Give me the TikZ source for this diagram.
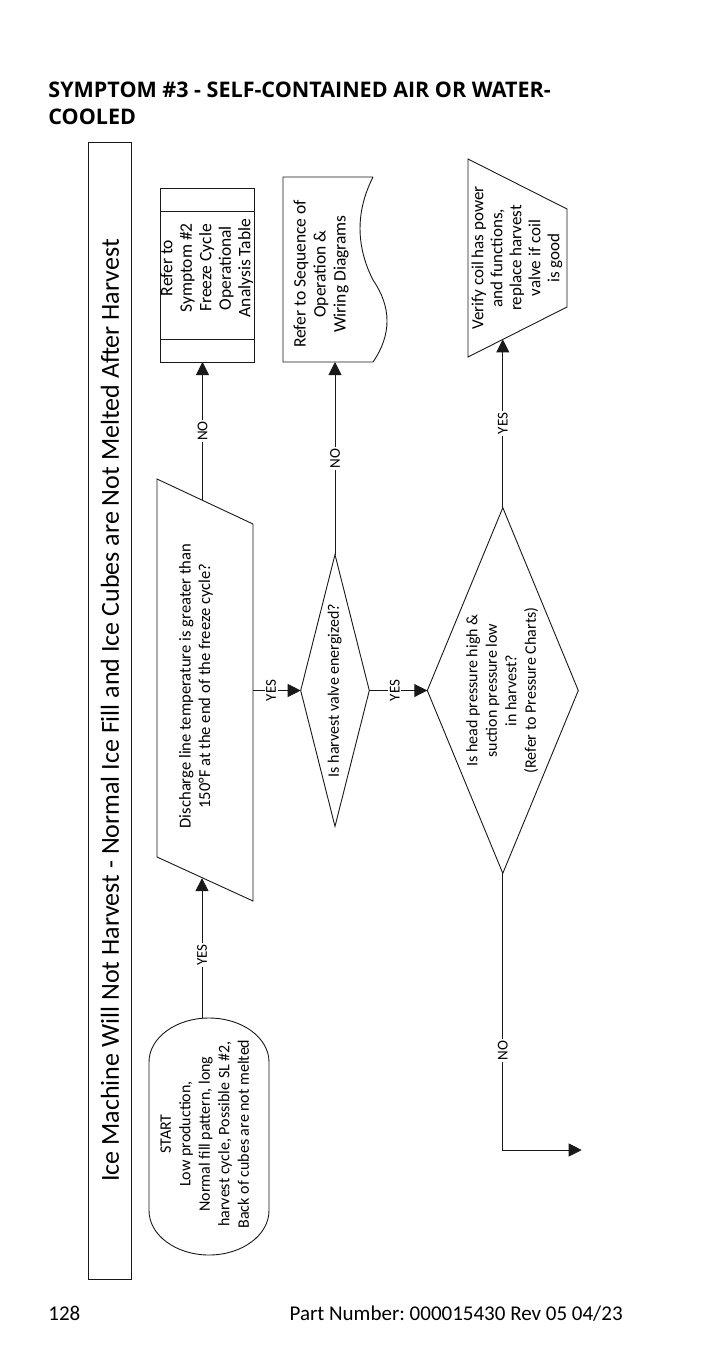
\documentclass[tikz,border=0pt]{standalone}
\usepackage{fontspec}
\setmainfont{Carlito}
\newfontfamily\hdrfont{Open Sans}
\usepackage{graphicx}
\usepackage{tikz}
\usetikzlibrary{arrows.meta,positioning,calc,shapes.geometric}

\newcommand{\vtxt}[1]{\rotatebox{90}{\begin{tabular}{@{}c@{}}#1\end{tabular}}}
\frenchspacing

\begin{document}
\begin{tikzpicture}[x=1pt, y=-1pt, line width=0.9pt,
	shp/.style = {draw=black!90, inner sep=0pt, outer sep=0pt},
	txt/.style = {inner sep=0pt, font=\fontsize{16}{19.5}\selectfont},
	dmd/.style = {diamond, shp, font=\fontsize{16}{19.5}\selectfont},
	arr/.style = {draw=black!90, -{Triangle[length=13pt,width=13pt]}},
	lbl/.style = {fill=white, inner sep=1.5pt, rotate=90, font=\fontsize{15}{18}\selectfont}]
	            \fill[white] (0,0) rectangle (720,1368);
	            \useasboundingbox (0,0) rectangle (720,1368);
	            \node [anchor=base west, inner sep=0pt, font=\fontsize{21.5}{27}\hdrfont\bfseries] (hdr) at (48,97) {SYMPTOM \#3 - SELF-CONTAINED AIR OR WATER-};
	            \node [anchor=base west, inner sep=0pt, font=\fontsize{21.5}{27}\hdrfont\bfseries] (hdr2) at (48,124) {COOLED};
	            \node [shp, minimum width=43.5, minimum height=1137, font=\fontsize{26}{31}\selectfont] (ttl) at (110,710.5) {\rotatebox{90}{Ice Machine Will Not Harvest - Normal Ice Fill and Ice Cubes are Not Melted After Harvest}};
	            \draw [shp] (149,1062) .. controls (149,1037.7) and (175.9,1018) .. (209,1018) .. controls (242.1,1018) and (269,1037.7) .. (269,1062) -- (269,1210.5) .. controls (269,1235.1) and (242.1,1255) .. (209,1255) .. controls (175.9,1255) and (149,1235.1) .. (149,1210.5) -- cycle;
	            \node [txt] (start) at (206,1134) {\vtxt{START\\Low production,\\Normal fill pattern, long\\harvest cycle, Possible SL \#2,\\Back of cubes are not melted}};
	            \coordinate (startT) at (202,1018.3);
	            \draw [shp] (157,479) -- (253,524) -- (253,901) -- (157,857) -- cycle;
	            \node [txt, font=\fontsize{16.6}{19.5}\selectfont] (disc) at (196.5,686) {\vtxt{Discharge line temperature is greater than\\150°F at the end of the freeze cycle?}};
	            \coordinate (discT) at (202.5,500.3);
	            \coordinate (discB) at (202,878.1);
	            \coordinate (discR) at (253,690.5);
	            \node [shp, minimum width=93.5, minimum height=174] (sym) at (207.25,275) {};
	            \draw [shp] (sym.north west) ++(0,23) -- ++(93.5,0);
	            \draw [shp] (sym.south west) ++(0,-23) -- ++(93.5,0);
	            \node [txt, font=\fontsize{17.5}{19.5}\selectfont] (symtxt) at (207.5,268) {\vtxt{Refer to\\Symptom \#2\\Freeze Cycle\\Operational\\Analysis Table}};
	            \draw [shp] (373,177) -- (283,177) -- (283,362) -- (373,362) .. controls (391.7,334.7) and (391.7,307.3) .. (373,280) .. controls (355.7,245.7) and (355.7,211.3) .. (373,177);
	            \node [txt, font=\fontsize{17.5}{20}\selectfont] (seq) at (321.7,274) {\vtxt{Refer to Sequence of\\Operation \&\\Wiring Diagrams}};
	            \coordinate (seqB) at (335,362);
	            \node [dmd, aspect=0.25, minimum width=68.6, minimum height=271.7] (d1) at (335,690.5) {\vtxt{Is harvest valve energized?}};
	            \node [dmd, aspect=0.41, minimum width=151, minimum height=365.6] (d2) at (502.8,690.5) {\vtxt{Is head pressure high \&\\suction pressure low\\in harvest?\\(Refer to Pressure Charts)}};
	            \draw [shp] (468,159) -- (567,209) -- (567,307) -- (468,357) -- cycle;
	            \node [txt, font=\fontsize{17}{19}\selectfont] (verify) at (517.5,258) {\vtxt{Verify coil has power\\and functions,\\replace harvest\\valve if coil\\is good}};
	            \coordinate (vin) at (502.8,339.4);
	            \coordinate (noend) at (581.7,1150);
	            \draw [arr] (startT) -- (discB) node [lbl, pos=.45] {YES};
	            \draw [arr] (discT) -- (discT |- sym.south) node [lbl, pos=.5] {NO};
	            \draw [arr] (discR) -- (d1) node [lbl, pos=.38] {YES};
	            \draw [arr] (d1.north) -- (seqB) node [lbl, pos=.5] {NO};
	            \draw [arr] (d1) -- (d2) node [lbl, pos=.44] {YES};
	            \draw [arr] (d2.north) -- (vin) node [lbl, pos=.5] {YES};
	            \draw [arr] (d2.south) |- (noend) node [lbl, pos=.32] {NO};
	            \node [anchor=base west, inner sep=0pt, font=\fontsize{21}{25}\selectfont] (pg) at (48,1320) {128};
	            \node [anchor=base east, inner sep=0pt, font=\fontsize{21}{25}\selectfont] (pn) at (623,1320) {Part Number: 000015430 Rev 05 04/23};
\end{tikzpicture}
\end{document}
